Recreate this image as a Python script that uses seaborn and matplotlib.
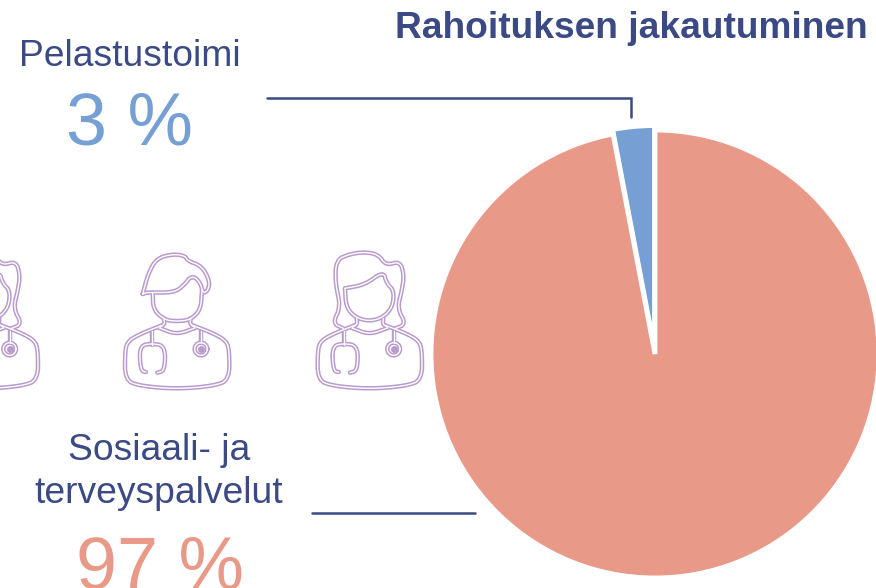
import numpy as np
import matplotlib
matplotlib.use("Agg")
import matplotlib.pyplot as plt
import seaborn as sns

# Data
labels = ["Pelastustoimi", "Sosiaali- ja\nterveyspalvelut"]
shares = [3, 97]
title = "Rahoituksen jakautuminen"

BLUE = "#769fd3"
SALMON = "#e89987"
NAVY = "#3b4a85"
LILAC = "#b99ccd"


def smooth(points, n=3, closed=False):
    # corner cutting so the hand picked outline points look like curves
    pts = np.array(points, dtype=float)
    for _ in range(n):
        if closed:
            nxt = np.roll(pts, -1, axis=0)
            pts = np.column_stack([0.75 * pts + 0.25 * nxt, 0.25 * pts + 0.75 * nxt]).reshape(-1, 2)
        else:
            a, b = pts[:-1], pts[1:]
            mid = np.column_stack([0.75 * a + 0.25 * b, 0.25 * a + 0.75 * b]).reshape(-1, 2)
            pts = np.vstack([pts[0], mid, pts[-1]])
    return pts


def stroke(ax, pts, dx):
    # the icons are double outlines: thick lilac with a white core
    x = (pts[:, 0] + dx) / 3
    y = 240 + pts[:, 1] / 3
    ax.plot(x, y, color=LILAC, lw=3.2, solid_capstyle="round", solid_joinstyle="round", zorder=2)
    ax.plot(x, y, color="white", lw=1.0, solid_capstyle="round", solid_joinstyle="round", zorder=3)


def draw_body(ax, dx):
    body = [(486, 256), (425, 280), (385, 302), (375, 330), (375, 420), (420, 438), (530, 447), (640, 438),
            (688, 420), (688, 330), (678, 302), (640, 280), (578, 256)]
    stroke(ax, smooth(body, 2), dx)
    stroke(ax, smooth([(478, 264), (530, 284), (585, 264)]), dx)
    stroke(ax, smooth([(492, 236), (494, 252), (480, 262)], 2), dx)
    stroke(ax, smooth([(572, 236), (570, 252), (584, 262)], 2), dx)
    stroke(ax, np.array([(455, 272), (455, 314)]), dx)
    stroke(ax, smooth([(438, 396), (422, 392), (418, 318), (455, 310), (496, 318), (494, 392), (472, 398)], 3), dx)
    stroke(ax, np.array([(603, 272), (603, 308)]), dx)
    t = np.linspace(0, 2 * np.pi, 50)
    stroke(ax, np.column_stack([603 + 19 * np.cos(t), 327 + 19 * np.sin(t)]), dx)
    ax.scatter([(603 + dx) / 3], [240 + 327 / 3], s=16, color=LILAC, zorder=4)


def draw_man(ax, dx):
    draw_body(ax, dx)
    face = [(458, 158), (460, 210), (495, 240), (530, 244), (570, 240), (602, 210), (606, 150)]
    stroke(ax, smooth(face), dx)
    hair = [(428, 162), (445, 100), (470, 55), (520, 42), (556, 48), (562, 62), (605, 78), (628, 120),
            (626, 148), (610, 162), (600, 125), (575, 106), (550, 138), (520, 158), (440, 157)]
    stroke(ax, smooth(hair + [hair[0]], 2), dx)


def draw_woman(ax, dx):
    draw_body(ax, dx + 578)
    outer = [(1030, 265), (998, 250), (1022, 200), (1006, 130), (1008, 60), (1050, 42), (1095, 36), (1135, 44),
             (1158, 76), (1200, 64), (1212, 105), (1206, 150), (1192, 205), (1218, 252), (1185, 266)]
    stroke(ax, smooth(outer, 2), dx)
    face = [(1035, 145), (1095, 134), (1150, 94), (1160, 130), (1182, 152), (1178, 200), (1150, 232), (1108, 244),
            (1065, 232), (1038, 200)]
    stroke(ax, smooth(face + [face[0]], 2), dx)


sns.set_theme(style="white")
plt.rcParams["font.family"] = ["Liberation Sans", "DejaVu Sans"]

fig = plt.figure(figsize=(8.76, 5.88), dpi=100)
W, H = 876, 588

# overlay in pixel coordinates for icons, leader lines and labels
bg = fig.add_axes([0, 0, 1, 1])
bg.set_xlim(0, W)
bg.set_ylim(H, 0)
bg.axis("off")

draw_woman(bg, -1152)
draw_man(bg, 0)
draw_woman(bg, 0)

# pie centred at (655, 354)
cx, cy, r = 655, 354, 224
pie_ax = fig.add_axes([(cx - r) / W, 1 - (cy + r) / H, 2 * r / W, 2 * r / H])
palette = sns.color_palette([BLUE, SALMON])
pie_ax.pie(shares, colors=palette, startangle=90, counterclock=True, radius=1, explode=[0.02, 0],
           wedgeprops={"edgecolor": "white", "linewidth": 3.5})
pie_ax.set_xlim(-1, 1)
pie_ax.set_ylim(-1, 1)
pie_ax.patch.set_alpha(0)

# leader lines
bg.plot([267, 631, 631], [98, 98, 117], color=NAVY, lw=1.8, solid_joinstyle="miter")
bg.plot([312, 475], [513, 513], color=NAVY, lw=1.8)

bg.text(631, 28, title, ha="center", va="center", fontsize=26.7, fontweight="bold", color=NAVY)
bg.text(130, 56, labels[0], ha="center", va="center", fontsize=26.8, color=NAVY)
bg.text(130, 125, f"{shares[0]} %", ha="center", va="center", fontsize=53, color=BLUE)
bg.text(159, 472, labels[1], ha="center", va="center", fontsize=26.8, color=NAVY, linespacing=1.3)
bg.text(160, 569, f"{shares[1]} %", ha="center", va="center", fontsize=53, color=SALMON)

fig.savefig("out.png", dpi=100)
